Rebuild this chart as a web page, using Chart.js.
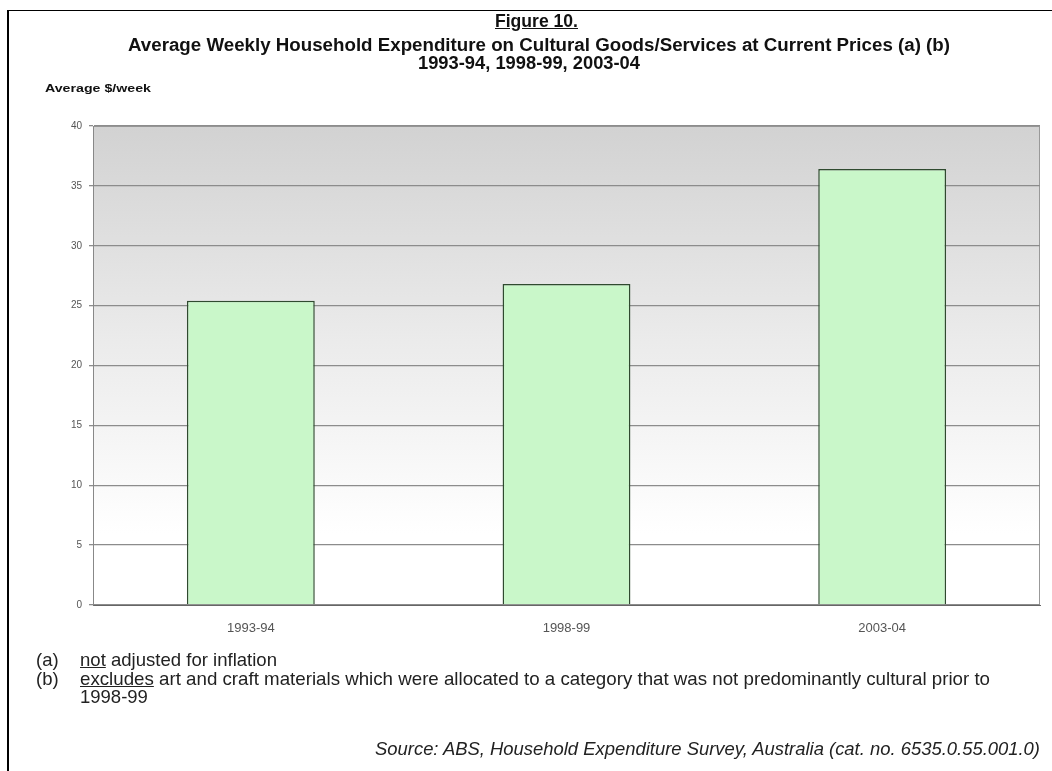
<!DOCTYPE html>
<html>
<head>
<meta charset="utf-8">
<script src="https://cdn.jsdelivr.net/npm/chart.js@4/dist/chart.umd.min.js"></script>
<style>
  html, body { margin: 0; padding: 0; background: #fff; }
  #wrap { position: relative; width: 1052px; height: 771px; overflow: hidden; font-family: Arial, "Liberation Sans", sans-serif; }
  #frame { position: absolute; left: 7px; top: 10px; width: 1100px; height: 800px; border-top: 1px solid #000; border-left: 2px solid #000; }
  canvas { position: absolute; left: 0; top: 0; }
  .t { position: absolute; color: #111; white-space: nowrap; transform-origin: 0 0; }
  .ttl { font-weight: bold; font-size: 18px; line-height: 18px; }
  .fn { font-size: 18.5px; line-height: 19px; color: #222; }
</style>
</head>
<body>
<div id="wrap">
  <div id="frame"></div>
  <canvas id="chart" width="1052" height="771"></canvas>
  <div class="t ttl" data-x="495" data-w="83" style="top:12px;"><u>Figure 10.</u></div>
  <div class="t ttl" data-x="128" data-w="822" style="top:36px;">Average Weekly Household Expenditure on Cultural Goods/Services at Current Prices (a) (b)</div>
  <div class="t ttl" data-x="418" data-w="222" style="top:54px;">1993-94, 1998-99, 2003-04</div>
  <div class="t" data-x="45" data-w="106" style="top:84px; font-size:10px; line-height:10px; font-weight:bold;">Average $/week</div>
  <div class="t fn" style="left:36px; top:650px;">(a)</div>
  <div class="t fn" data-x="80" data-w="197" style="top:650px;"><u>not</u> adjusted for inflation</div>
  <div class="t fn" style="left:36px; top:669px;">(b)</div>
  <div class="t fn" data-x="80" data-w="910" style="top:669px;"><u>excludes</u> art and craft materials which were allocated to a category that was not predominantly cultural prior to</div>
  <div class="t fn" style="left:80px; top:687px;">1998-99</div>
  <div class="t fn" data-x="375" data-w="665" style="top:739px; font-style:italic;">Source: ABS, Household Expenditure Survey, Australia (cat. no. 6535.0.55.001.0)</div>
</div>
<script>
const years = ['1993-94', '1998-99', '2003-04'];
const spending = [25.4, 26.8, 36.4];
const yMin = 0;
const yMax = 40;
const yStep = 5;

// stretch each text line to the width it takes in the scanned figure
document.querySelectorAll('[data-w]').forEach(el => {
  el.style.left = el.dataset.x + 'px';
  const w = el.getBoundingClientRect().width;
  el.style.transform = 'scaleX(' + (el.dataset.w / w) + ')';
});

const plotBackground = {
  id: 'plotBackground',
  beforeDraw(chart) {
    const { ctx, chartArea: a } = chart;
    const g = ctx.createLinearGradient(0, a.top, 0, a.bottom);
    g.addColorStop(0, '#d2d2d2');
    g.addColorStop(0.45, '#ebebeb');
    g.addColorStop(0.85, '#ffffff');
    g.addColorStop(1, '#ffffff');
    ctx.save();
    ctx.fillStyle = g;
    ctx.fillRect(a.left, a.top, a.right - a.left, a.bottom - a.top);
    ctx.strokeStyle = '#999';
    ctx.lineWidth = 1;
    ctx.strokeRect(a.left + 0.5, a.top + 0.5, a.right - a.left - 1, a.bottom - a.top);
    ctx.restore();
  }
};

new Chart(document.getElementById('chart'), {
  type: 'bar',
  data: {
    labels: years,
    datasets: [{
      data: spending,
      backgroundColor: '#c9f7c9',
      borderColor: '#2f4a2f',
      borderWidth: 1.5,
      categoryPercentage: 1,
      barPercentage: 0.405
    }]
  },
  options: {
    responsive: false,
    animation: false,
    layout: { padding: { left: 0, top: 126, right: 12, bottom: 126 } },
    plugins: { legend: { display: false }, tooltip: { enabled: false } },
    scales: {
      x: {
        afterFit(s) { s.height = 40; },
        grid: { display: false },
        border: { color: '#666' },
        ticks: { color: '#555', font: { size: 13, family: 'Arial' }, padding: 8 }
      },
      y: {
        min: yMin,
        max: yMax,
        afterFit(s) { s.width = 93; },
        grid: { color: '#8c8c8c', lineWidth: 1.3, drawTicks: true, tickLength: 4 },
        border: { color: '#888' },
        ticks: { stepSize: yStep, color: '#555', font: { size: 10, family: 'Arial' }, padding: 7 }
      }
    }
  },
  plugins: [plotBackground]
});
</script>
</body>
</html>
